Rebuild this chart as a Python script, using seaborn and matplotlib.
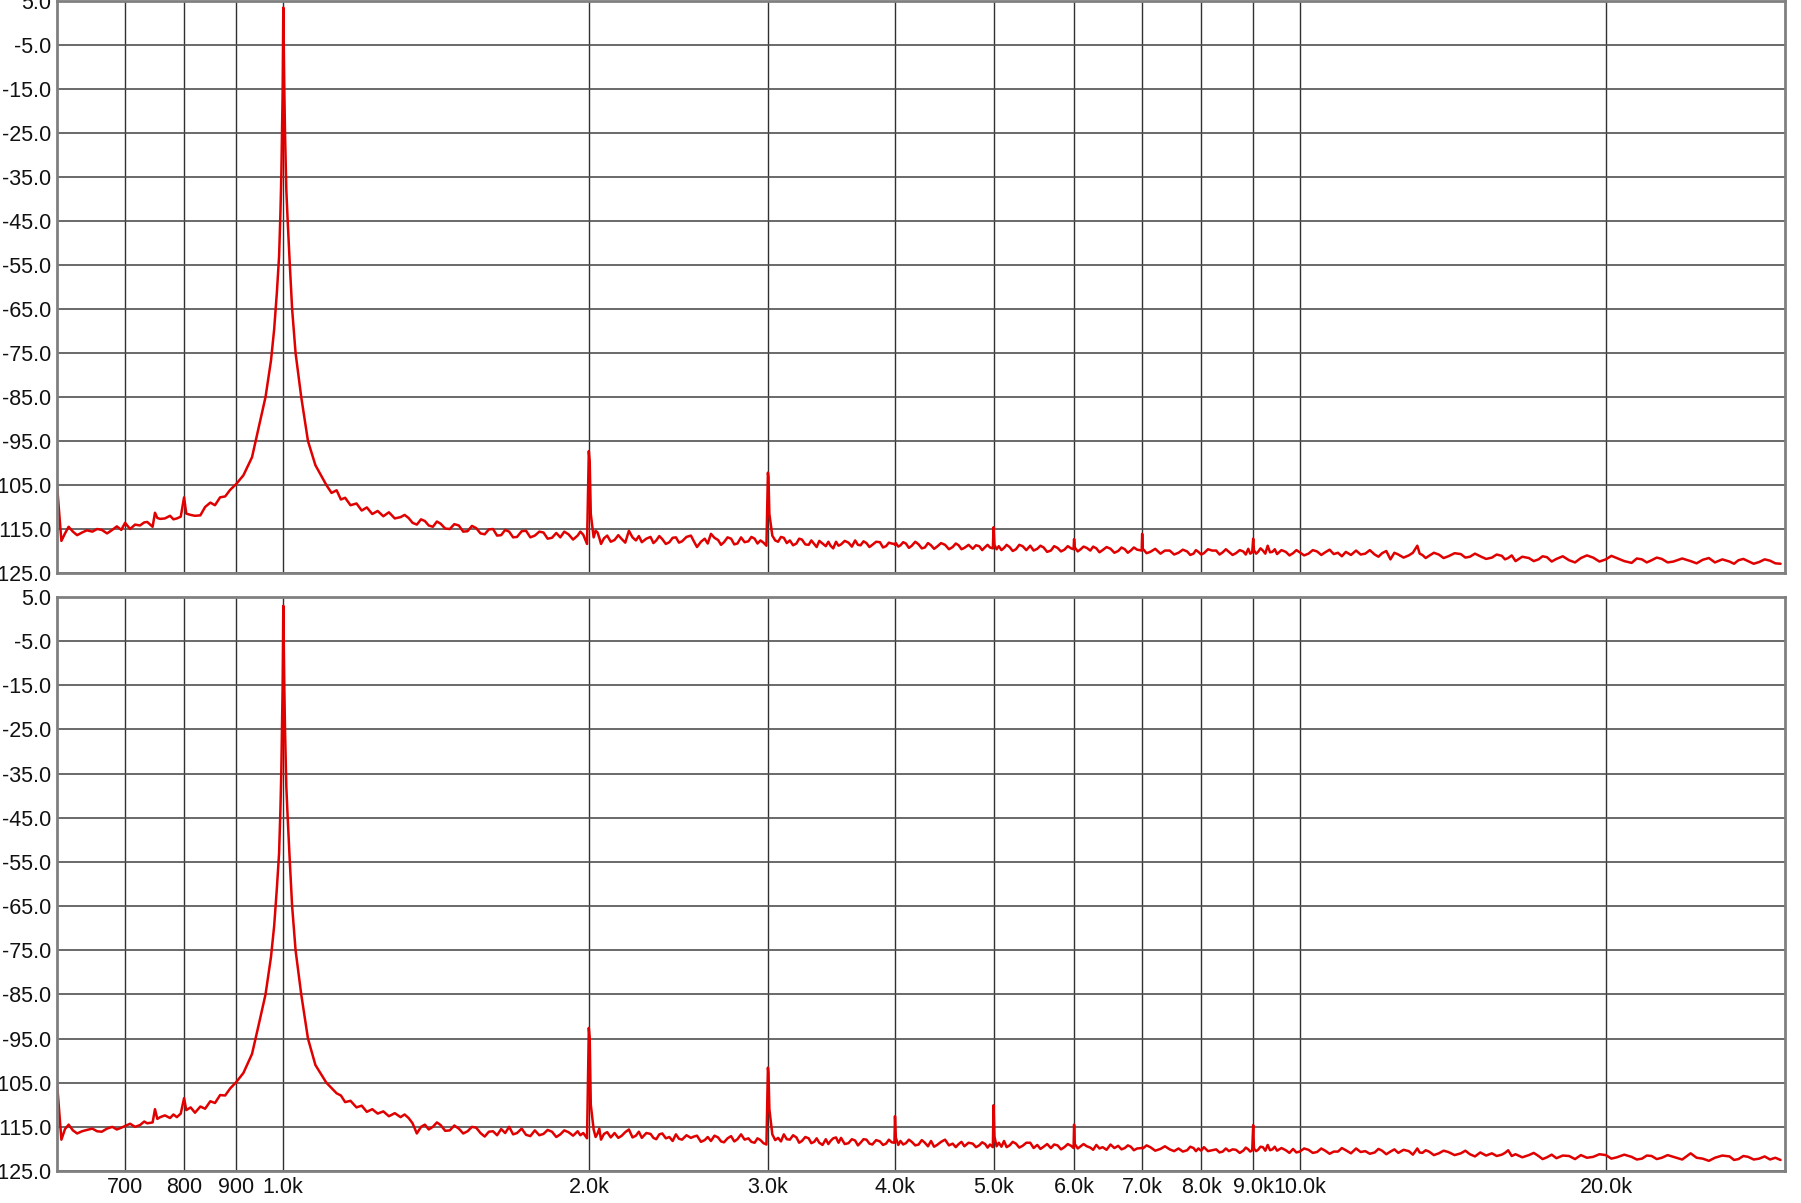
import pandas as pd
import matplotlib
matplotlib.use("Agg")
import matplotlib.pyplot as plt
from matplotlib.ticker import FixedLocator, FixedFormatter, NullLocator
import seaborn as sns

# Frequency points (Hz) shared by both channels
FREQ = [
    600, 606, 611, 616, 622, 628, 635, 642, 650, 657,
    664, 672, 680, 687, 694, 700, 708, 716, 724, 731,
    736, 745, 749, 753, 758, 766, 775, 781, 787, 794,
    800, 804, 812, 820, 830, 839, 849, 858, 868, 878,
    888, 900, 915, 933, 947, 962, 974, 981, 987, 992,
    995, 997, 998.6, 1000, 1001.5, 1003.9, 1005.4, 1006.9, 1008.4, 1011.5,
    1016.4, 1021.7, 1029.7, 1043, 1059, 1077, 1104, 1117, 1130, 1141,
    1152, 1166, 1182, 1196, 1210, 1225, 1240, 1256, 1272, 1289,
    1306, 1318, 1330, 1342, 1355, 1368, 1380,
    1392, 1405, 1418, 1430, 1445, 1460, 1475, 1490, 1505, 1520,
    1535, 1550, 1565, 1580, 1595, 1610, 1625, 1640, 1655, 1670,
    1685, 1700, 1718, 1735, 1752, 1770, 1788, 1805, 1822, 1840,
    1858, 1875, 1892, 1910, 1930, 1950, 1962, 1975, 1992, 2000,
    2004, 2009, 2022, 2031, 2040, 2048, 2056, 2070, 2085, 2102,
    2120, 2138, 2155, 2172, 2190, 2208, 2225, 2240, 2255, 2278,
    2300, 2315, 2330, 2346, 2362, 2381, 2400, 2418, 2436, 2453,
    2470, 2495, 2520, 2537, 2555, 2578, 2600, 2618, 2637, 2658,
    2680, 2698, 2716, 2738, 2760, 2780, 2800, 2823, 2846, 2870,
    2890, 2911, 2930, 2950, 2970, 2990, 3000, 3004, 3010, 3030,
    3050, 3070, 3090, 3110, 3131, 3153, 3176, 3200, 3220, 3240,
    3265, 3290, 3310, 3331, 3350, 3370, 3395, 3420, 3440, 3457,
    3478, 3500, 3520, 3540, 3570, 3600, 3628, 3655, 3678, 3700,
    3725, 3750, 3775, 3800, 3833, 3866, 3893, 3920, 3945, 3970,
    3995, 4000, 4008, 4030, 4050, 4075, 4100, 4128, 4155, 4188,
    4220, 4250, 4280, 4310, 4340, 4370, 4400, 4440, 4480, 4520,
    4558, 4590, 4620, 4650, 4680, 4725, 4770, 4805, 4840, 4873,
    4906, 4933, 4960, 4992, 5000, 5010, 5035, 5060, 5090, 5120,
    5150, 5185, 5222, 5260, 5300, 5340, 5385, 5433, 5475, 5520,
    5560, 5600, 5645, 5693, 5735, 5780, 5825, 5870, 5915, 5960,
    5993, 6000, 6010, 6050, 6090, 6130, 6175, 6224, 6265, 6310,
    6355, 6400, 6458, 6516, 6573, 6630, 6680, 6730, 6776, 6822,
    6870, 6920, 6992, 7000, 7010, 7070, 7130, 7210, 7296, 7370,
    7450, 7525, 7600, 7675, 7750, 7805, 7863, 7905, 7950, 8000,
    8050, 8125, 8200, 8277, 8340, 8400, 8460, 8520, 8590, 8655,
    8730, 8800, 8850, 8900, 8940, 8980, 9000, 9015, 9060, 9100,
    9150, 9200, 9250, 9300, 9350, 9400, 9450, 9500, 9595, 9690,
    9770, 9850, 9925, 10000, 10100, 10200, 10300, 10400, 10500, 10594,
    10700, 10800, 10905, 11000, 11100, 11230, 11360, 11480, 11600, 11720,
    11850, 11950, 12050, 12165, 12280, 12390, 12500, 12650, 12800, 12920,
    13050, 13120, 13200, 13300, 13400, 13550, 13700, 13850, 14000, 14200,
    14400, 14550, 14700, 14870, 15050, 15250, 15450, 15620, 15800, 15915,
    16030, 16160, 16300, 16550, 16800, 16985, 17170, 17330, 17500, 17690,
    17880, 18140, 18400, 18650, 18900, 19160, 19430, 19710, 20000, 20250,
    20500, 20850, 21200, 21450, 21700, 21940, 22180, 22440, 22700, 23000,
    23300, 23770, 24230, 24560, 24900, 25250, 25600, 26030, 26460, 26730,
    27000, 27300, 27600, 27950, 28300, 28650, 29000, 29350, 29700,
]

# Level in dB, upper channel
TOP_DB = [
    -105, -117.7, -116, -114.5, -115.6, -116.4, -115.8, -115.3, -115.6, -115,
    -115.2, -116, -115.2, -114.4, -115.2, -113.6, -115, -114, -114.2, -113.5,
    -113.4, -114.5, -111.3, -112.5, -112.7, -112.6, -112, -112.8, -112.6, -112.2,
    -107.8, -111.5, -111.8, -112, -111.9, -110, -109, -109.6, -107.8, -107.6,
    -106.1, -104.8, -102.8, -98.7, -92, -85, -76.7, -69.6, -61.3, -53,
    -43.1, -34.8, -24.9, -15.7, 3.5, -15.7, -25, -32, -38, -45,
    -55, -65, -75, -85, -95, -100.5, -105, -106.8, -106.2, -108.3,
    -107.9, -109.6, -109.2, -110.8, -110.1, -111.6, -110.9, -112.1, -111.2, -112.6,
    -112.3, -111.8, -112.5, -113.6, -114, -112.8, -113.2,
    -114.2, -114.5, -113.3, -113.8, -114.9, -115, -113.9, -114.2, -115.6, -115.5,
    -114.3, -114.8, -116.0, -116.2, -115.1, -115, -116.5, -116.4, -115.2, -115.6,
    -116.9, -116.8, -115.5, -115.4, -116.9, -116.5, -115.6, -115.8, -117.2, -117,
    -115.9, -116.9, -115.6, -116.2, -117.4, -116.5, -115.6, -116.3, -118.4, -97.3,
    -99.6, -111.6, -116.9, -115.4, -115.8, -117.0, -118.4, -117.1, -116.5, -117.9,
    -117.5, -116.4, -117.3, -118.1, -115.4, -116.9, -117.6, -116.6, -118, -117.2,
    -116.8, -118.2, -117.6, -116.6, -117.3, -118.4, -118, -117.0, -116.9, -118.1,
    -117.8, -116.8, -116.5, -117.8, -119.1, -117.9, -117.2, -118.3, -116.1, -117.0,
    -117.5, -118.6, -118, -116.9, -117.2, -118.5, -118.3, -116.9, -118.0, -117.8,
    -116.8, -117.2, -118.3, -117.6, -118.1, -118.8, -102.2, -103.3, -111.6, -116.5,
    -117.6, -117.9, -116.8, -117, -118.2, -117.6, -118.7, -118.3, -117.2, -117.4,
    -118.5, -118.6, -117.6, -118.4, -119.1, -117.7, -118.3, -118.9, -117.9, -118.8,
    -119.4, -117.9, -118.8, -118.5, -117.7, -118.1, -119.0, -117.6, -118.6, -118.7,
    -117.8, -118.2, -119.1, -118.6, -117.9, -118, -119.2, -118.9, -118.1, -118.3,
    -118.4, -118.6, -118.2, -119.0, -118.7, -118.0, -118.3, -119.3, -118.8, -117.9,
    -118.5, -119.4, -119.2, -118.2, -118.7, -119.5, -119, -118.2, -118.6, -119.6,
    -119.1, -118.3, -118.7, -119.6, -119.3, -118.6, -119.5, -118.7, -118.9, -119.8,
    -119.1, -118.6, -119.2, -119.4, -114.6, -118.6, -119.6, -118.9, -119.8, -119.3,
    -118.6, -119.1, -120.0, -119.6, -118.6, -118.9, -119.8, -118.8, -119.9, -119.5,
    -118.8, -119.2, -120.2, -119.9, -118.9, -119.3, -120.1, -119.7, -118.9, -119.4,
    -119.6, -117.3, -119.2, -120.1, -119.6, -119.0, -119.3, -119.9, -119.0, -119.4,
    -120.3, -119.8, -119.1, -119.5, -120.4, -120, -119.2, -119.6, -120.4, -119.9,
    -119.2, -119.7, -119.9, -116.1, -119.5, -120.5, -120.2, -119.5, -120.6, -119.9,
    -119.9, -120.8, -120.4, -119.7, -120.1, -120.9, -120.6, -119.8, -120.2, -120.8,
    -120.5, -119.6, -119.9, -119.9, -120.8, -120.3, -119.6, -120.2, -120.9, -120.5,
    -119.8, -120.1, -120.8, -119.5, -120.6, -120.3, -117.2, -119.8, -120.6, -120.2,
    -119.4, -119.9, -120.6, -118.8, -120.3, -120.2, -119.6, -120.7, -119.8, -120.2,
    -121.0, -120.5, -119.8, -120.3, -121.0, -120.6, -119.8, -120.1, -120.9, -120.3,
    -119.7, -120.7, -120.4, -121.2, -120.2, -120.9, -119.9, -120.8, -120.6, -119.8,
    -120.8, -121.3, -120.5, -120.0, -121.9, -120.4, -120.8, -121.5, -121, -120.4,
    -118.8, -120.6, -120.9, -121.6, -121.1, -120.4, -120.8, -121.6, -121.2, -120.5,
    -120.7, -121.5, -121.3, -120.6, -121.2, -121.8, -121.5, -120.8, -121.1, -121.9,
    -121.6, -121.0, -122.3, -121.3, -121.6, -122.3, -121.9, -121.2, -121.4, -122.4,
    -121.8, -121.2, -122.1, -122.6, -121.6, -121.0, -121.5, -122.4, -121.9, -121.1,
    -121.6, -122.3, -122.7, -121.7, -121.9, -122.6, -122.1, -121.5, -121.8, -122.6,
    -122.4, -121.7, -122.3, -122.8, -122, -121.6, -122.6, -121.9, -122.4, -122.9,
    -122.1, -121.8, -122.3, -122.9, -122.5, -121.9, -122.2, -122.8, -122.9,
]

# Level in dB, lower channel
BOTTOM_DB = [
    -105, -117.9, -115.5, -114.5, -115.8, -116.5, -116, -115.7, -115.4, -116,
    -116.1, -115.4, -115, -115.6, -115.2, -114.8, -114.3, -115, -114.6, -113.8,
    -114.2, -114, -111, -113.2, -112.8, -112.4, -113, -112.2, -112.8, -112,
    -108.5, -111.2, -110.6, -111.8, -110.4, -110.9, -109.2, -109.6, -107.8, -107.9,
    -106.3, -104.9, -102.8, -98.5, -92, -85, -76.5, -69.5, -61, -53,
    -43, -34.5, -24.5, -15, 3.0, -16, -25, -32, -38, -45,
    -55, -65, -75, -85, -95, -101, -105, -106.2, -107.4, -107.9,
    -109.4, -109.1, -110.6, -110.2, -111.6, -111.0, -112.0, -111.5, -112.6, -111.9,
    -112.8, -112.2, -113, -114.2, -116.5, -115.0, -114.5,
    -115.6, -115, -114.0, -114.6, -115.9, -115.8, -114.7, -115.4, -116.5, -116,
    -115.0, -115.2, -116.4, -117.2, -116.1, -116, -116.9, -115.5, -116.4, -115,
    -116.7, -116.4, -115.4, -116.8, -117.1, -115.8, -116.9, -116.6, -115.7, -116.1,
    -117.3, -116.7, -115.8, -116.2, -117.0, -116, -116.9, -116.4, -117.6, -92.6,
    -94.8, -110, -115.6, -117.3, -116.5, -115.4, -117.9, -116.6, -116.2, -117.4,
    -116.4, -117.5, -117, -116.2, -115.6, -117.4, -117, -116.1, -117.5, -116.4,
    -116.6, -117.5, -117.8, -116.7, -116.5, -117.6, -117.3, -118.2, -116.7, -117.7,
    -117.9, -116.9, -117.5, -117.2, -117, -118.4, -118, -117.3, -118.2, -117.0,
    -117.4, -118.3, -118.5, -117.6, -117.1, -118.3, -117.8, -116.7, -117.9, -117.6,
    -118.4, -118.6, -117.6, -118, -118.7, -119, -101.6, -102.8, -111, -116.7,
    -118.0, -117.5, -118.3, -116.7, -117.8, -117.9, -116.9, -117.4, -118.6, -118.2,
    -117.3, -117.6, -118.7, -118.4, -117.6, -118.6, -119.1, -117.8, -118.9, -118.2,
    -117.6, -117.4, -118.6, -117.5, -118.9, -118.7, -117.8, -118.1, -119.2, -118.6,
    -117.8, -117.9, -118.8, -119, -118.0, -118.3, -119.1, -118.8, -117.9, -118.5,
    -118.6, -112.6, -117.5, -119.1, -118.2, -119.0, -118.7, -117.9, -118.4, -119.2,
    -119, -118.0, -118.6, -119.4, -118.2, -119.5, -119.1, -118.4, -117.9, -119.2,
    -118.8, -119.6, -118.9, -118.4, -119.4, -118.6, -118.8, -119.6, -119.2, -118.5,
    -118.9, -119.7, -119, -119.6, -110.1, -117.2, -119.4, -118.6, -119.5, -118.2,
    -119.6, -119.2, -118.4, -118.8, -119.7, -119.3, -118.6, -118.6, -119.8, -119.1,
    -120.0, -119.5, -118.9, -119.8, -119.0, -119.2, -120.1, -119.6, -118.9, -119.3,
    -119.8, -114.5, -118.9, -119.9, -119.4, -118.9, -119.4, -119.7, -120.2, -119.1,
    -119.9, -119.6, -120.2, -119, -119.8, -119.3, -120.1, -119.8, -119.2, -119.5,
    -120.3, -119.9, -119.8, -119.7, -119.9, -119.2, -119.6, -120.4, -120, -119.4,
    -120.1, -120.5, -119.9, -120.6, -120.3, -119.5, -119.8, -120.5, -119.9, -120.4,
    -119.6, -120.5, -120.3, -120.1, -120.8, -120.6, -119.9, -120.5, -120.1, -120.2,
    -120.9, -120.4, -119.7, -120.1, -120.6, -120.3, -114.6, -119.9, -120.5, -120.2,
    -119.5, -119.6, -120.4, -119.1, -120.3, -120.1, -119.5, -120.4, -119.8, -120.3,
    -120.9, -120, -120.8, -120.6, -119.9, -120.2, -120.9, -120.7, -119.9, -120.4,
    -121.1, -120.6, -120.6, -119.8, -120.3, -121.0, -119.9, -120.7, -120.5, -121.1,
    -120.8, -120.0, -120.4, -121.2, -120.6, -120.1, -120.9, -120.2, -120.5, -121.3,
    -119.9, -120.8, -120.9, -120.3, -120.6, -121.4, -121, -120.4, -120.7, -121.4,
    -121, -120.4, -121.2, -121.7, -120.8, -121.5, -121, -121.6, -121.3, -120.9,
    -120.3, -121.6, -121.2, -121.9, -121.4, -120.9, -121.6, -122.3, -121.9, -121.3,
    -122.1, -121.5, -121.6, -122.3, -121.4, -122.0, -121.8, -121.2, -121.4, -122.2,
    -121.9, -121.3, -121.8, -122.4, -122.2, -121.5, -121.6, -122.3, -122, -121.4,
    -121.8, -122.4, -121, -122.0, -122.2, -122.7, -122, -121.5, -121.7, -122.5,
    -122.3, -121.6, -121.8, -122.4, -122.2, -121.7, -122.4, -122.0, -122.5,
]

X_TICKS = [700, 800, 900, 1000, 2000, 3000, 4000, 5000, 6000, 7000, 8000, 9000, 10000, 20000]
X_LABELS = ["700", "800", "900", "1.0k", "2.0k", "3.0k", "4.0k", "5.0k", "6.0k",
            "7.0k", "8.0k", "9.0k", "10.0k", "20.0k"]
Y_TICKS = [-125, -115, -105, -95, -85, -75, -65, -55, -45, -35, -25, -15, -5, 5]
Y_LABELS = ["-125.0", "-115.0", "-105.0", "-95.0", "-85.0", "-75.0", "-65.0",
            "-55.0", "-45.0", "-35.0", "-25.0", "-15.0", "-5.0", "5.0"]

sns.set_style("white")
plt.rcParams["font.family"] = ["Liberation Sans", "DejaVu Sans"]

W, H = 1801, 1203
fig = plt.figure(figsize=(W / 100, H / 100), dpi=100)
ax_top = fig.add_axes([57 / W, (H - 573) / H, 1728 / W, 572 / H])
ax_bot = fig.add_axes([57 / W, (H - 1171) / H, 1728 / W, 574 / H])

for ax, db in ((ax_top, TOP_DB), (ax_bot, BOTTOM_DB)):
    df = pd.DataFrame({"freq": FREQ, "db": db})
    ax.set_xscale("log")
    sns.lineplot(data=df, x="freq", y="db", ax=ax, color="#e00000",
                 linewidth=1.8, estimator=None, sort=False)
    ax.set_xlim(600, 30000)
    ax.set_ylim(-125, 5)
    ax.xaxis.set_major_locator(FixedLocator(X_TICKS))
    ax.xaxis.set_major_formatter(FixedFormatter(X_LABELS))
    ax.xaxis.set_minor_locator(NullLocator())
    ax.yaxis.set_major_locator(FixedLocator(Y_TICKS))
    ax.yaxis.set_major_formatter(FixedFormatter(Y_LABELS))
    ax.grid(True, axis="x", color="#303030", linewidth=1.0)
    ax.grid(True, axis="y", color="#505050", linewidth=1.2)
    ax.set_axisbelow(True)
    ax.tick_params(length=0, labelsize=15.5, colors="#111111", pad=4)
    ax.set_xlabel("")
    ax.set_ylabel("")
    for sp in ax.spines.values():
        sp.set_color("#808080")
        sp.set_linewidth(2)

ax_top.tick_params(labelbottom=False)

fig.savefig("out.png", dpi=100, facecolor="white")
